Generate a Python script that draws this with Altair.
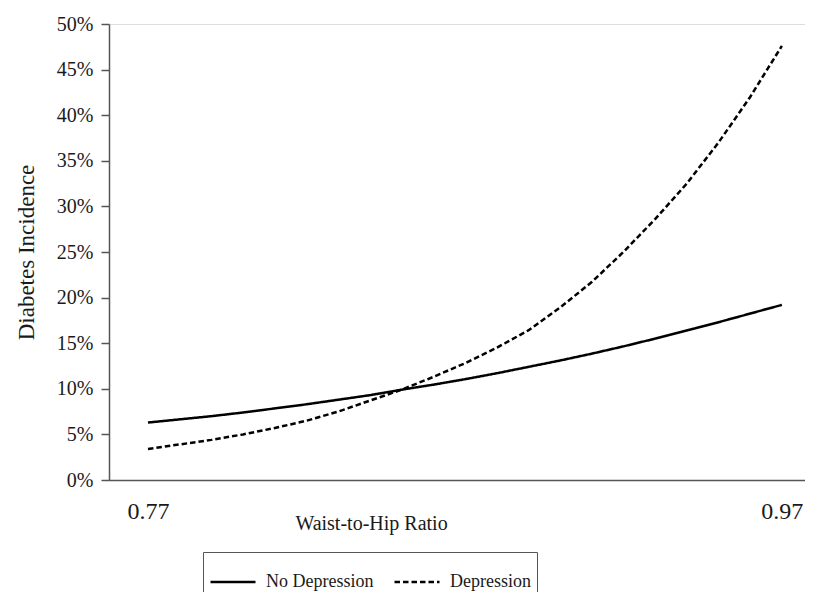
import altair as alt
import pandas as pd

# Waist-to-hip ratio sample points
ratio = [0.77, 0.78, 0.79, 0.80, 0.81, 0.82, 0.83, 0.84, 0.85, 0.86, 0.87,
         0.88, 0.89, 0.90, 0.91, 0.92, 0.93, 0.94, 0.95, 0.96, 0.97]

# Diabetes incidence (%)
no_depression = [6.3, 6.65, 7.0, 7.4, 7.85, 8.3, 8.8, 9.3, 9.9, 10.45, 11.05,
                 11.7, 12.4, 13.1, 13.85, 14.65, 15.5, 16.4, 17.3, 18.25, 19.2]
depression = [3.4, 3.9, 4.4, 5.0, 5.7, 6.5, 7.5, 8.7, 9.9, 11.3, 12.8,
              14.5, 16.4, 18.9, 21.7, 25.0, 28.6, 32.5, 37.0, 42.0, 47.6]

groups = ["No Depression", "Depression"]
y_ticks = [0, 0.05, 0.10, 0.15, 0.20, 0.25, 0.30, 0.35, 0.40, 0.45, 0.50]
x_ticks = [0.77, 0.97]

rows = []
for x, a, b in zip(ratio, no_depression, depression):
    rows.append({"ratio": x, "incidence": a / 100, "group": groups[0]})
    rows.append({"ratio": x, "incidence": b / 100, "group": groups[1]})
df = pd.DataFrame(rows)

SERIF = "Liberation Serif"
TXT = "#1a1a1a"
AX = "#555555"

chart = alt.Chart(df).mark_line(color="black", strokeWidth=2.5).encode(
    x=alt.X(
        "ratio:Q",
        scale=alt.Scale(domain=[0.7577, 0.9773], nice=False, zero=False),
        axis=alt.Axis(
            title="Waist-to-Hip Ratio",
            values=x_ticks,
            format=".2f",
            grid=False,
            ticks=False,
            domainColor=AX,
            domainWidth=1.5,
            labelFont=SERIF,
            labelFontSize=24,
            labelColor=TXT,
            labelPadding=19,
            labelFlush=False,
            titleFont=SERIF,
            titleFontSize=20,
            titleFontWeight="normal",
            titleColor=TXT,
            titleX=262,
            titleY=33,
            titleAlign="center",
            titleBaseline="top",
        ),
    ),
    y=alt.Y(
        "incidence:Q",
        scale=alt.Scale(domain=[0, 0.5], nice=False),
        axis=alt.Axis(
            title="Diabetes Incidence",
            values=y_ticks,
            format=".0%",
            grid=False,
            tickSize=8,
            tickColor=AX,
            tickWidth=1.5,
            domainColor=AX,
            domainWidth=1.5,
            labelFont=SERIF,
            labelFontSize=20,
            labelColor=TXT,
            labelPadding=8,
            labelFlush=False,
            titleFont=SERIF,
            titleFontSize=23,
            titleFontWeight="normal",
            titleColor=TXT,
            titleX=-71,
            titleY=228,
            titleAngle=270,
            titleAlign="center",
            titleBaseline="bottom",
        ),
    ),
    strokeDash=alt.StrokeDash(
        "group:N",
        scale=alt.Scale(domain=groups, range=[[1, 0], [5.5, 3]]),
        sort=groups,
        legend=alt.Legend(
            title=None,
            orient="none",
            legendX=94,
            legendY=528,
            direction="horizontal",
            symbolType="stroke",
            symbolSize=2025,
            symbolStrokeWidth=2.5,
            symbolStrokeColor="black",
            labelFont=SERIF,
            labelFontSize=18,
            labelColor=TXT,
            labelOffset=9,
            columnPadding=15,
            padding=6,
            strokeColor=AX,
        ),
    ),
).properties(
    width=696,
    height=456,
    autosize=alt.AutoSizeParams(type="none"),
    padding={"left": 101, "top": 16, "right": 0, "bottom": 112},
).configure_view(
    strokeWidth=0
).configure_axis(
    titleFont=SERIF, labelFont=SERIF
).configure_legend(
    labelFont=SERIF
).configure(
    background="white", font=SERIF
)

chart.save("out.html", embed_options={"renderer": "svg", "actions": False})
